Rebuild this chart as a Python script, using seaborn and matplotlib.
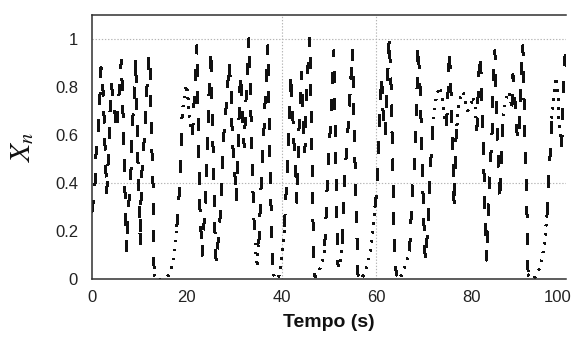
import matplotlib
matplotlib.use("Agg")
import matplotlib.pyplot as plt
import matplotlib.transforms as mtransforms
import numpy as np
import pandas as pd
import seaborn as sns

# ---- data (time in s, X_n) ----
tempo_s = [
    0.0, 0.6, 0.9, 1.3, 1.6, 1.9, 2.2, 2.5, 2.8, 3.1, 3.6, 3.8, 4.1, 4.5, 4.9, 5.2, 5.6, 5.9, 6.2, 6.6,
    7.0, 7.3, 7.6, 8.1, 8.3, 8.5, 8.9, 9.2, 9.6, 9.9, 10.2, 10.4, 10.8, 11.2, 11.6, 12.0, 12.3, 12.5, 12.9, 13.1,
    13.4, 14.8, 15.9, 16.6, 17.1, 17.5, 17.9, 18.2, 18.6, 18.8, 19.0, 19.3, 19.7, 19.9, 20.2, 20.5, 20.9, 21.2,
    21.5, 21.8, 22.1, 22.4, 22.7, 23.1, 23.3, 23.8, 24.3, 24.7, 25.1, 25.4, 25.7, 26.0, 26.2, 26.8, 27.2, 27.6,
    28.1, 28.5, 28.9, 29.3, 29.5, 29.8, 30.2, 30.5, 30.8, 31.0, 31.3, 31.6, 32.1, 32.5, 32.8, 33.1, 33.4, 33.8,
    34.1, 34.4, 34.8, 35.2, 35.6, 36.0, 36.3, 36.6, 36.9, 37.1, 37.4, 37.7, 37.9, 38.3, 38.8, 39.4, 39.9, 40.3,
    40.6, 41.0, 41.4, 41.7, 42.0, 42.2, 42.6, 43.0, 43.2, 43.6, 43.9, 44.2, 44.6, 44.9, 45.3, 45.6, 45.9, 46.2,
    46.4, 46.7, 47.0, 47.9, 48.6, 48.9, 49.1, 49.4, 49.6, 49.8, 50.1, 50.4, 50.8, 51.0, 51.3, 51.6, 51.9, 52.2,
    52.6, 52.9, 53.1, 53.4, 53.8, 54.2, 54.6, 55.0, 55.4, 55.8, 56.1, 56.6, 57.4, 58.2, 58.8, 59.3, 59.7, 60.1,
    60.4, 60.7, 61.1, 61.5, 61.9, 62.3, 62.7, 63.1, 63.4, 63.8, 64.2, 64.8, 65.6, 66.4, 67.0, 67.3, 67.6, 68.0,
    68.4, 68.8, 69.2, 69.6, 69.9, 70.3, 70.8, 71.5, 71.9, 72.2, 72.6, 73.0, 73.4, 73.8, 74.2, 74.5, 74.8, 75.2,
    75.4, 75.7, 76.0, 76.3, 76.4, 76.7, 77.0, 77.3, 77.8, 78.3, 78.8, 79.3, 79.8, 80.3, 80.8, 81.2, 81.6, 81.9,
    82.2, 82.5, 82.9, 83.3, 83.6, 84.0, 84.4, 84.6, 85.0, 85.2, 85.5, 85.8, 86.0, 86.5, 86.8, 87.1, 87.5, 87.9,
    88.3, 88.6, 88.8, 89.2, 89.6, 89.9, 90.3, 90.6, 90.9, 91.3, 91.7, 92.0, 92.6, 93.5, 94.3, 95.0, 95.5, 96.0,
    96.2, 96.6, 97.0, 97.3, 97.6, 97.9, 98.3, 98.5, 98.9, 99.1, 99.3, 99.5, 99.8, 100.0,
]
x_n = [
    0.28, 0.38, 0.55, 0.62, 0.72, 0.88, 0.84, 0.70, 0.52, 0.36, 0.57, 0.70, 0.81, 0.74, 0.68, 0.62, 0.73, 0.85, 0.91, 0.65,
    0.33, 0.12, 0.29, 0.38, 0.50, 0.63, 0.76, 0.92, 0.56, 0.35, 0.14, 0.41, 0.52, 0.63, 0.80, 0.93, 0.86, 0.62, 0.38, 0.02,
    0.00, 0.00, 0.01, 0.03, 0.07, 0.13, 0.22, 0.30, 0.41, 0.53, 0.68, 0.74, 0.79, 0.81, 0.76, 0.70, 0.63, 0.60,
    0.72, 0.85, 0.97, 0.65, 0.33, 0.15, 0.10, 0.30, 0.50, 0.78, 0.95, 0.65, 0.42, 0.15, 0.07, 0.20, 0.30, 0.55,
    0.67, 0.76, 0.90, 0.80, 0.65, 0.52, 0.42, 0.33, 0.55, 0.66, 0.85, 0.76, 0.55, 0.75, 0.86, 1.00, 0.80, 0.46,
    0.28, 0.15, 0.05, 0.15, 0.35, 0.55, 0.63, 0.78, 0.86, 0.97, 0.63, 0.39, 0.13, 0.02, 0.00, 0.01, 0.06, 0.13,
    0.22, 0.38, 0.55, 0.70, 0.85, 0.75, 0.57, 0.45, 0.32, 0.60, 0.72, 0.86, 0.62, 0.53, 0.77, 0.90, 1.00, 0.75,
    0.50, 0.15, 0.01, 0.03, 0.08, 0.10, 0.14, 0.27, 0.38, 0.47, 0.57, 0.67, 0.90, 0.95, 0.65, 0.28, 0.06, 0.05,
    0.10, 0.16, 0.34, 0.44, 0.57, 0.68, 0.83, 0.95, 0.55, 0.25, 0.02, 0.00, 0.02, 0.06, 0.13, 0.22, 0.30, 0.37,
    0.53, 0.68, 0.84, 0.65, 0.60, 0.80, 1.00, 0.80, 0.50, 0.12, 0.02, 0.00, 0.03, 0.07, 0.12, 0.25, 0.38, 0.47,
    0.67, 0.97, 0.80, 0.55, 0.30, 0.08, 0.20, 0.50, 0.63, 0.70, 0.75, 0.78, 0.80, 0.76, 0.70, 0.66, 0.64, 0.82,
    0.95, 0.80, 0.62, 0.40, 0.30, 0.56, 0.64, 0.72, 0.76, 0.78, 0.74, 0.70, 0.72, 0.76, 0.73, 0.62, 0.85, 0.93,
    0.80, 0.58, 0.30, 0.08, 0.30, 0.46, 0.61, 0.82, 0.95, 0.78, 0.60, 0.47, 0.33, 0.58, 0.68, 0.72, 0.76, 0.78,
    0.74, 0.72, 0.85, 0.75, 0.62, 0.58, 0.68, 0.87, 0.97, 0.60, 0.35, 0.02, 0.00, 0.01, 0.04, 0.09, 0.16, 0.27,
    0.37, 0.50, 0.67, 0.74, 0.79, 0.84, 0.76, 0.66, 0.60, 0.55, 0.70, 0.82, 0.93, 0.97,
]
# slow stretches of the trajectory (drawn dotted in the reference)
trechos_lentos = [(13.1, 17.9), (19.0, 21.2), (34.4, 35.2), (38.3, 40.6), (47.0, 49.1),
                  (51.9, 52.9), (56.1, 59.7), (64.2, 67.0), (71.9, 74.8), (77.0, 81.2),
                  (86.8, 88.6), (92.0, 96.0), (97.0, 99.1)]
x_ticks = [0, 20, 40, 60, 80, 100]
x_tick_labels = ["0", "20", "40", "60", "80", "100"]
y_ticks = [0, 0.2, 0.4, 0.6, 0.8, 1.0]
y_tick_labels = ["0", "0.2", "0.4", "0.6", "0.8", "1"]
grid_x = [40, 60]
grid_y = [0.4, 1.0]

# ---- build runs of fast / slow segments ----
def fase_de(a, b):
    m = 0.5 * (a + b)
    return "lento" if any(s <= m <= e for s, e in trechos_lentos) else "rapido"

rows = []
run = 0
prev = None
for i in range(len(tempo_s) - 1):
    f = fase_de(tempo_s[i], tempo_s[i + 1])
    if f != prev:
        run += 1
        rows.append((tempo_s[i], x_n[i], f, run))
        prev = f
    rows.append((tempo_s[i + 1], x_n[i + 1], f, run))
df = pd.DataFrame(rows, columns=["Tempo", "Xn", "fase", "trecho"])

sns.set_style("white")
plt.rcParams["font.family"] = ["Liberation Sans", "DejaVu Sans"]
plt.rcParams["mathtext.fontset"] = "stix"

fig = plt.figure(figsize=(5.73, 3.42), dpi=100)
W, H = 573, 342
L, R, T, B = 92, 566, 14.5, 279.3
ax = fig.add_axes([L / W, 1 - B / H, (R - L) / W, (B - T) / H])

for gx in grid_x:
    ax.axvline(gx, color="#b4b4b4", lw=0.8, linestyle=(0, (1.2, 1.6)), zorder=0)
for gy in grid_y:
    ax.axhline(gy, color="#b4b4b4", lw=0.8, linestyle=(0, (1.2, 1.6)), zorder=0)

sns.lineplot(data=df, x="Tempo", y="Xn", style="fase", units="trecho",
             estimator=None, sort=False,
             dashes={"rapido": (7.0, 10.0), "lento": (1.0, 4.5)},
             color="#111111", linewidth=1.15, legend=False, ax=ax,
             antialiased=False)

ax.set_xlim(0, 100)
ax.set_ylim(0, 1.1)
ax.set_xticks(x_ticks)
ax.set_xticklabels(x_tick_labels)
ax.set_yticks(y_ticks)
ax.set_yticklabels(y_tick_labels)
ax.tick_params(axis="both", length=0, labelsize=12, colors="#222222")
ax.tick_params(axis="x", pad=8)
ax.tick_params(axis="y", pad=10)
# last x label sits slightly left of its tick in the reference
lab = ax.get_xticklabels()[-1]
lab.set_transform(lab.get_transform() + mtransforms.ScaledTranslation(-8 / 100, 0, fig.dpi_scale_trans))

for s in ["top", "left", "bottom"]:
    ax.spines[s].set_color("#303030")
    ax.spines[s].set_linewidth(1.1)
ax.spines["right"].set_visible(False)

ax.set_xlabel("Tempo (s)", fontsize=14, fontweight="bold", color="#111111")
ax.xaxis.set_label_coords(0.5, -0.13)
ax.set_ylabel(r"$X_n$", fontsize=21, color="#111111")
ax.yaxis.set_label_coords(-0.118, 0.5)

fig.savefig("out.png", dpi=100)
